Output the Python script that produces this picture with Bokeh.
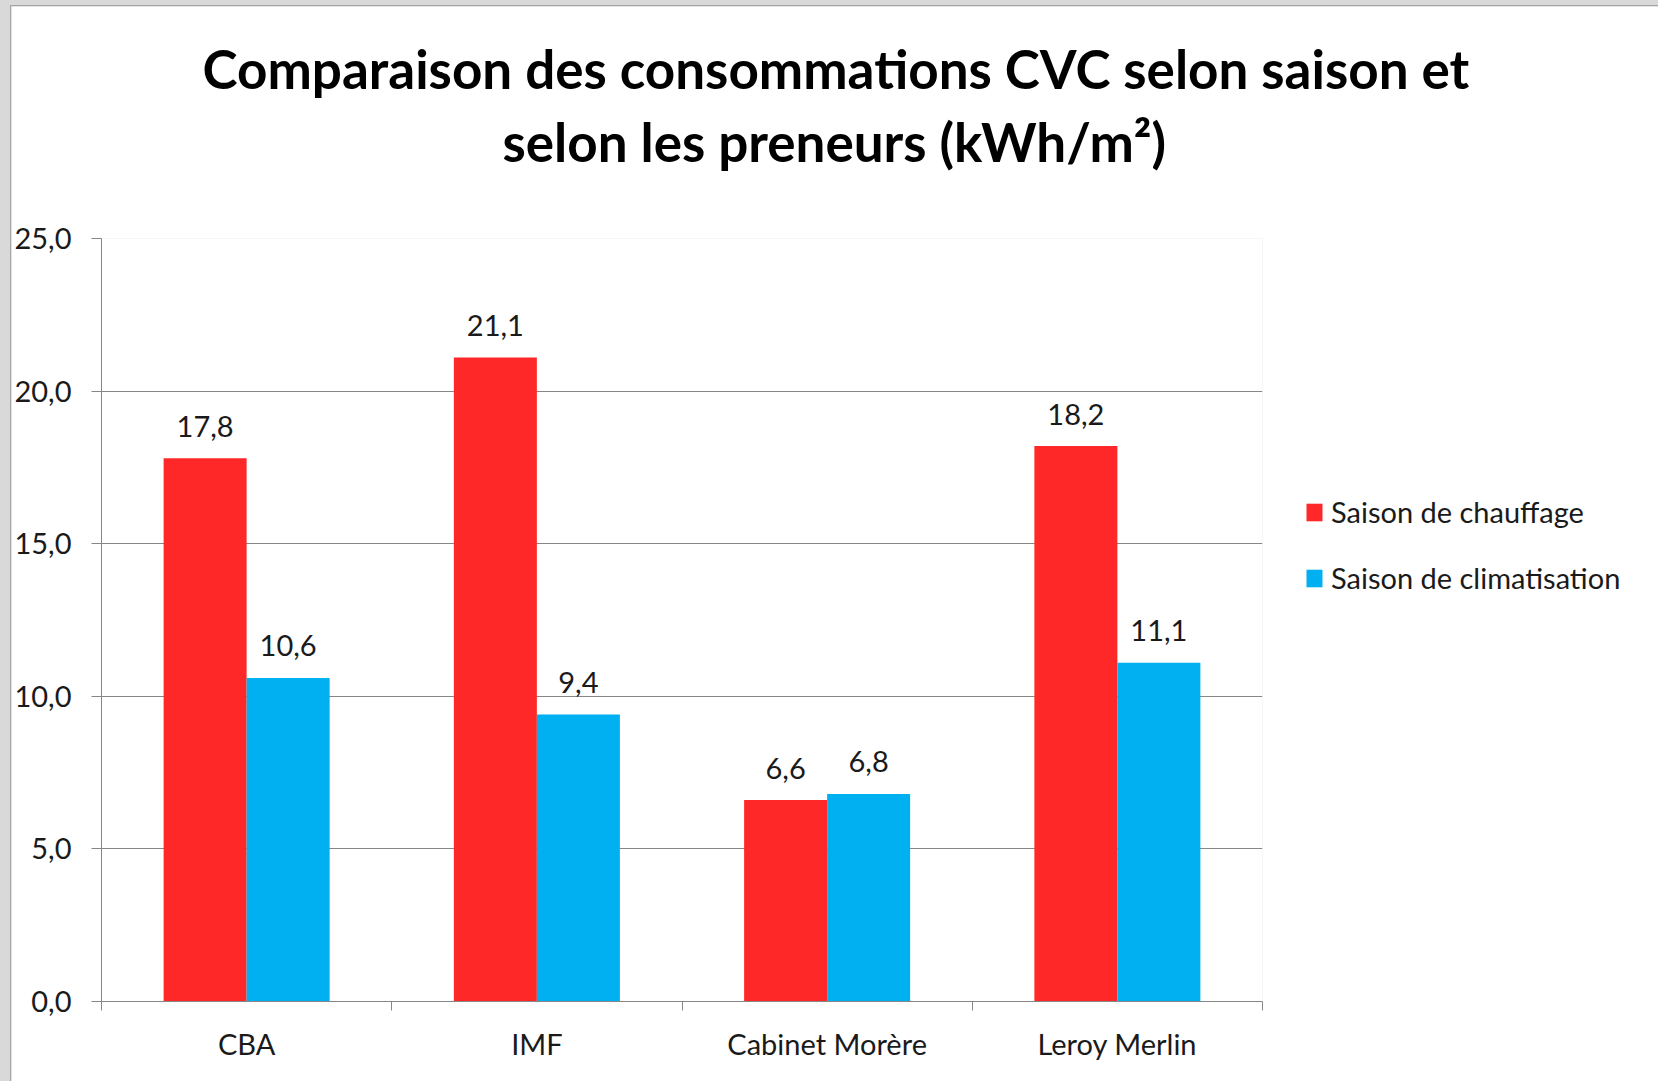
from bokeh.plotting import figure
from bokeh.models import (ColumnDataSource, Range1d, FixedTicker, Title, Legend, LegendItem)
from bokeh.layouts import column
from bokeh.embed import file_html
from bokeh.resources import INLINE
from bokeh.core.properties import value

# ---- data ----
categories = ["CBA", "IMF", "Cabinet Morère", "Leroy Merlin"]
chauffage = [17.8, 21.1, 6.6, 18.2]
climatisation = [10.6, 9.4, 6.8, 11.1]
series_names = ["Saison de chauffage", "Saison de climatisation"]
y_ticks = [0, 5, 10, 15, 20, 25]
title_lines = ["Comparaison des consommations CVC selon saison et",
               "selon les preneurs (kWh/m²)"]

RED = "#FF2828"
BLUE = "#00B0F0"
GRID = "#878787"
FONT = "Lato"
TXT = "#1a1a1a"

def fr(v):
    return f"{v:.1f}".replace(".", ",")

idx = list(range(len(categories)))
bw = 0.286
src_r = ColumnDataSource(dict(x=[i + 0.5 - bw / 2 for i in idx], top=chauffage,
                              lab=[fr(v) for v in chauffage]))
src_b = ColumnDataSource(dict(x=[i + 0.5 + bw / 2 for i in idx], top=climatisation,
                              lab=[fr(v) for v in climatisation]))

p = figure(frame_width=1160, frame_height=762, output_backend="svg", toolbar_location=None,
           x_range=Range1d(0, len(categories)), y_range=Range1d(0, 25),
           min_border_left=89, min_border_right=1, min_border_top=0,
           min_border_bottom=82)
p.background_fill_color = "white"
p.border_fill_color = "white"
p.outline_line_color = None
p.styles = {"border-left": "1px solid #a6a6a6", "border-top": "1px solid #a6a6a6"}

r1 = p.vbar(x="x", top="top", width=bw, source=src_r, fill_color=RED, line_color=None)
r2 = p.vbar(x="x", top="top", width=bw, source=src_b, fill_color=BLUE, line_color=None)

for src in (src_r, src_b):
    p.text(x="x", y="top", text="lab", source=src, text_align="center",
           text_baseline="alphabetic", y_offset=-32, text_font=value(FONT),
           text_font_size="29px", text_color=TXT)

# axes
p.xaxis.ticker = FixedTicker(ticks=[i + 0.5 for i in idx],
                             minor_ticks=list(range(len(categories) + 1)))
p.xaxis.major_label_overrides = {i + 0.5: c for i, c in zip(idx, categories)}
p.xaxis.major_tick_out = 0
p.xaxis.major_tick_in = 0
p.xaxis.minor_tick_out = 9
p.xaxis.minor_tick_in = 0
p.xaxis.minor_tick_line_color = GRID
p.xaxis.axis_line_color = GRID
p.xaxis.major_label_standoff = 15
p.xaxis.major_label_text_font = FONT
p.xaxis.major_label_text_font_size = "29px"
p.xaxis.major_label_text_color = TXT

p.yaxis.ticker = FixedTicker(ticks=y_ticks)
p.yaxis.major_label_overrides = {t: fr(t) for t in y_ticks}
p.yaxis.major_tick_out = 10
p.yaxis.major_tick_in = 0
p.yaxis.minor_tick_line_color = None
p.yaxis.major_tick_line_color = GRID
p.yaxis.axis_line_color = GRID
p.yaxis.major_label_standoff = 20
p.yaxis.major_label_text_font = FONT
p.yaxis.major_label_text_font_size = "29px"
p.yaxis.major_label_text_color = TXT

p.xgrid.grid_line_color = None
p.ygrid.grid_line_color = GRID
p.ygrid.grid_line_width = 1

# two-line title; titles stack outward from the plot, so add from the plot upward
def title_part(text, offset, standoff, size="53px"):
    return Title(text=text, align="left", offset=offset, standoff=standoff,
                 text_font=FONT, text_font_style="bold", text_font_size=size,
                 text_color="black")

p.add_layout(title_part(" ", 0, 59, "1px"), "above")          # gap under the title
p.add_layout(title_part(title_lines[1], 401, 8), "above")
p.add_layout(title_part(title_lines[0], 101, 8), "above")
p.add_layout(title_part(" ", 0, 21, "1px"), "above")          # gap above the title

legend = Legend(items=[LegendItem(label=series_names[0], renderers=[r1]),
                       LegendItem(label=series_names[1], renderers=[r2])],
                location=(42, 406), orientation="vertical")
legend.border_line_color = None
legend.background_fill_alpha = 0
legend.padding = 0
legend.margin = 0
legend.spacing = 31
legend.glyph_width = 20
legend.glyph_height = 22
legend.label_height = 30
legend.label_standoff = 7
legend.label_text_font = FONT
legend.label_text_font_size = "29px"
legend.label_text_color = TXT
p.add_layout(legend, "right")

layout = column(p, styles={"background-color": "#d9d9d9", "padding": "5px 0px 0px 10px"})

open("out.html", "w").write(file_html(layout, INLINE))
